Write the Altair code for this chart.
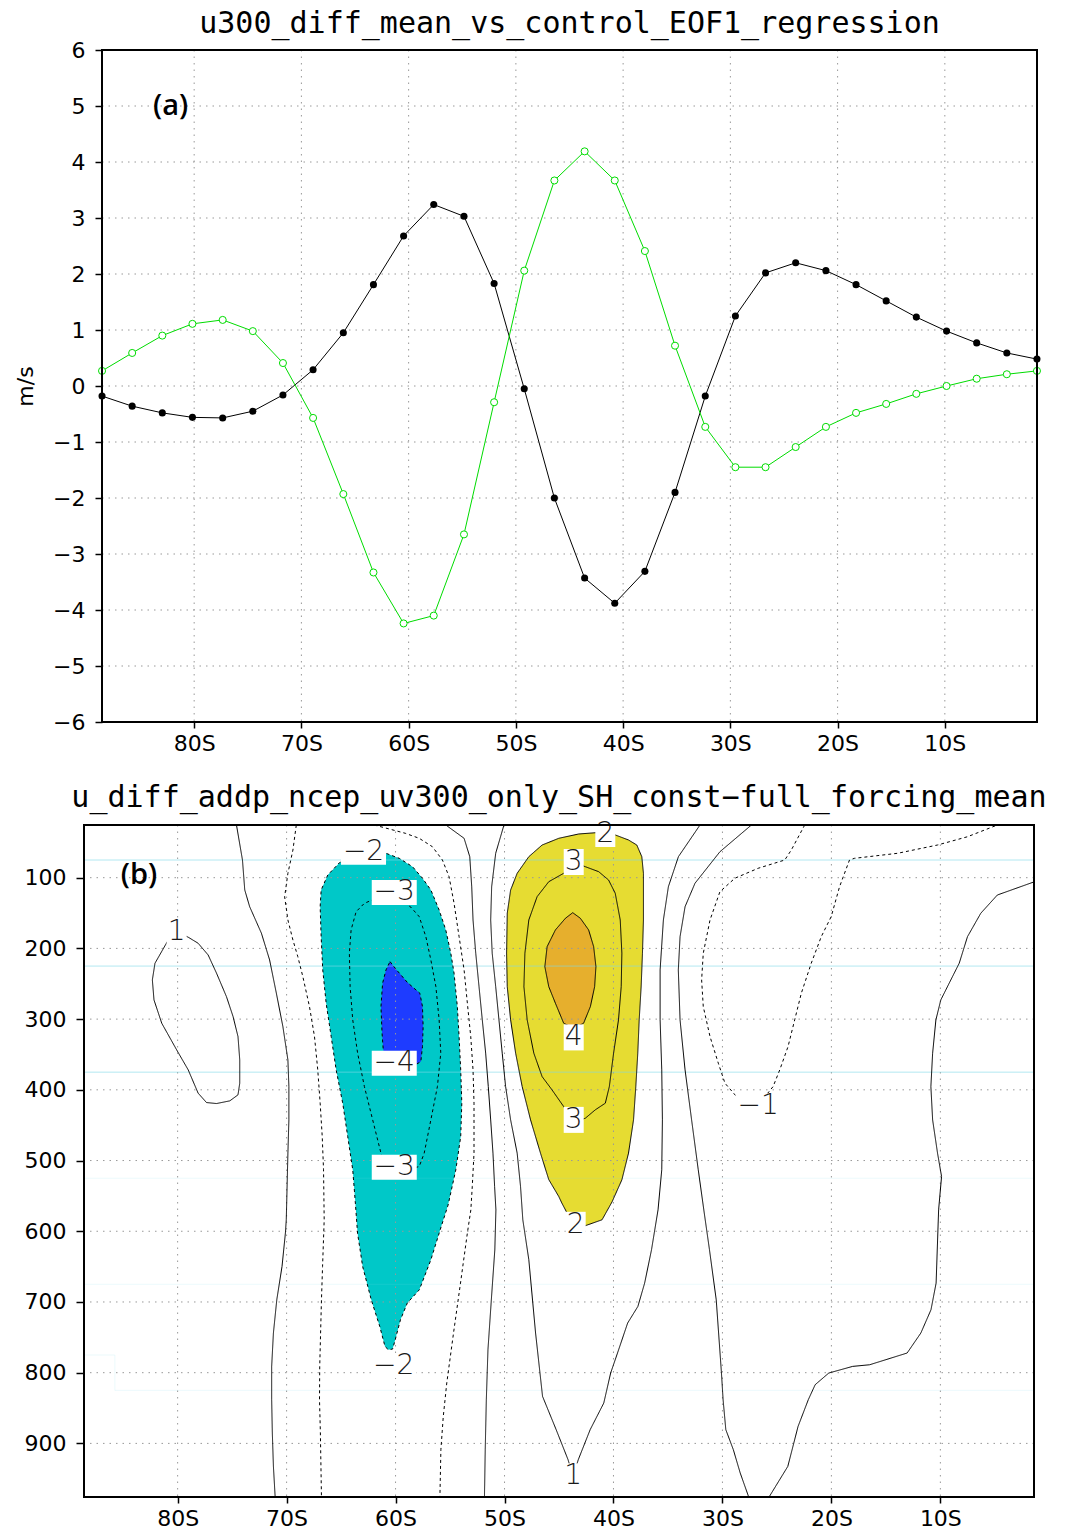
import altair as alt
import pandas as pd

# ---------------- (a) u300 profiles on the 2.8125-degree latitude grid ----------------
lat = [-88.59, -85.78, -82.97, -80.16, -77.34, -74.53, -71.72, -68.91,
       -66.09, -63.28, -60.47, -57.66, -54.84, -52.03, -49.22, -46.41,
       -43.59, -40.78, -37.97, -35.16, -32.34, -29.53, -26.72, -23.91,
       -21.09, -18.28, -15.47, -12.66, -9.84, -7.03, -4.22, -1.41]
u300_diff = [-0.18, -0.36, -0.48, -0.56, -0.57, -0.45, -0.16, 0.29,
             0.95, 1.81, 2.68, 3.24, 3.03, 1.83, -0.05, -2.00,
             -3.43, -3.88, -3.31, -1.90, -0.18, 1.25, 2.02, 2.20,
             2.06, 1.81, 1.52, 1.23, 0.98, 0.77, 0.59, 0.48]
eof1_reg = [0.27, 0.59, 0.90, 1.11, 1.18, 0.98, 0.41, -0.57,
            -1.93, -3.33, -4.24, -4.10, -2.65, -0.29, 2.06, 3.67,
            4.19, 3.67, 2.41, 0.72, -0.73, -1.45, -1.45, -1.09,
            -0.73, -0.48, -0.32, -0.14, 0.00, 0.13, 0.21, 0.27]

lat_ticks = [-80, -70, -60, -50, -40, -30, -20, -10]
u_ticks = [-6, -5, -4, -3, -2, -1, 0, 1, 2, 3, 4, 5, 6]
u_grid = [-5, -4, -3, -2, -1, 0, 1, 2, 3, 4, 5]
p_ticks = [100, 200, 300, 400, 500, 600, 700, 800, 900]

title_a = "u300_diff_mean_vs_control_EOF1_regression"
title_b = "u_diff_addp_ncep_uv300_only_SH_const\u2212full_forcing_mean"

# ---------------- (b) contour paths of the u difference, (lat, hPa) ----------------
u_p1_polar = [(-80.09, 176), (-80.95, 190.5), (-82.08, 221.0), (-82.32, 244.6), (-82.17, 272.9),
              (-81.46, 305.8), (-80.09, 343.5), (-79.03, 371.8), (-78.12, 404.7), (-77.35, 418.0),
              (-76.43, 419.4), (-75.21, 415.6), (-74.46, 407.1), (-74.30, 390.6), (-74.30, 357.7),
              (-74.46, 324.7), (-74.91, 296.5), (-75.52, 268.2), (-76.43, 235.1), (-77.20, 209.3),
              (-78.12, 192.7), (-79.03, 184.2), (-80.09, 176)]
u_0_polar = [(-74.60, 25.5), (-74.05, 75.0), (-73.84, 117.4), (-73.39, 141.0), (-72.31, 178.6),
             (-71.56, 216.3), (-70.94, 263.4), (-70.34, 310.6), (-69.88, 357.7), (-69.79, 395.4),
             (-69.79, 442.5), (-69.88, 489.5), (-70.03, 583.8), (-70.11, 602.6), (-70.42, 649.8),
             (-70.90, 696.9), (-71.21, 743.9), (-71.37, 791.1), (-71.37, 838.2), (-71.31, 885.3),
             (-71.21, 932.5), (-71.05, 975.8)]
u_m1_polar = [(-69.11, 25.5), (-69.42, 60.9), (-69.88, 93.8), (-70.18, 126.9), (-69.88, 159.8),
              (-69.42, 188.1), (-68.97, 211.7), (-68.51, 239.9), (-67.90, 282.3), (-67.44, 324.7),
              (-67.14, 371.8), (-66.92, 418.9), (-66.73, 466.1), (-66.61, 513.1), (-66.55, 583.8),
              (-66.70, 650.0), (-66.80, 697.0), (-66.96, 791.0), (-66.98, 838.0), (-66.90, 885.0),
              (-66.80, 975.8)]
u_m2 = [(-63.00, 60.0), (-60.88, 65.5), (-59.66, 72.6), (-58.44, 84.5), (-57.53, 100.8),
        (-56.76, 117.4), (-56.00, 145.7), (-55.39, 173.9), (-54.93, 206.9), (-54.63, 235.1),
        (-54.33, 282.3), (-54.17, 324.7), (-54.02, 371.8), (-53.92, 418.9), (-54.02, 466.1),
        (-54.47, 513.1), (-55.18, 563.0), (-55.81, 593.3), (-56.76, 640.4), (-57.82, 682.8),
        (-58.92, 701.5), (-59.55, 725.1), (-60.03, 753.4), (-60.27, 766.6), (-60.66, 767.6),
        (-60.97, 762.9), (-61.45, 734.6), (-62.23, 696.9), (-63.02, 649.8), (-63.49, 602.6),
        (-63.70, 558.0), (-63.93, 513.1), (-64.39, 466.1), (-64.85, 418.9), (-65.45, 371.8),
        (-65.91, 324.7), (-66.37, 277.5), (-66.68, 230.5), (-66.83, 183.4), (-66.92, 141.0),
        (-66.83, 117.4), (-66.22, 96.2), (-65.15, 78.8), (-63.00, 60.0)]
u_m3 = [(-60.58, 121.6), (-58.59, 141.8), (-57.83, 155.1), (-57.22, 183.4), (-56.76, 216.3),
        (-56.30, 254.1), (-56.00, 301.1), (-55.85, 348.2), (-56.16, 395.4), (-56.76, 442.5),
        (-57.37, 489.5), (-57.83, 508.5), (-59.66, 516.0), (-61.13, 499.0), (-61.34, 489.5),
        (-62.10, 442.5), (-62.86, 395.4), (-63.48, 348.2), (-63.93, 301.1), (-64.17, 254.1),
        (-64.24, 206.9), (-64.08, 173.9), (-63.62, 148.1), (-62.86, 136.2), (-60.58, 121.6)]
u_m4 = [(-60.51, 218.7), (-59.96, 229.5), (-58.90, 248.4), (-57.77, 263.4), (-57.53, 282.3),
        (-57.47, 310.6), (-57.53, 338.9), (-57.68, 360.1), (-58.44, 367.1), (-59.66, 367.1),
        (-60.88, 357.7), (-61.13, 343.5), (-61.24, 319.9), (-61.34, 282.3), (-61.19, 249.3),
        (-60.88, 230.5), (-60.51, 218.7)]
u_m1_mid = [(-61.95, 25.5), (-59.11, 37.2), (-57.83, 44.3), (-56.62, 56.2), (-55.70, 75.0),
            (-55.09, 98.6), (-54.63, 136.2), (-54.17, 183.4), (-53.71, 230.5), (-53.41, 277.5),
            (-53.10, 324.7), (-52.89, 371.8), (-52.80, 418.9), (-52.80, 489.5), (-52.96, 536.7),
            (-53.09, 569.7), (-53.41, 602.6), (-54.04, 673.3), (-54.68, 743.9), (-55.30, 814.6),
            (-55.62, 861.8), (-55.84, 908.9), (-55.93, 975.8)]
u_0_mid = [(-55.39, 25.5), (-53.71, 44.3), (-53.19, 70.3), (-53.01, 112.7), (-52.89, 159.8),
           (-52.64, 206.9), (-52.34, 254.1), (-52.04, 301.1), (-51.73, 348.2), (-51.49, 395.4),
           (-51.27, 442.5), (-51.06, 489.5), (-50.91, 536.7), (-50.79, 569.7), (-50.89, 626.2),
           (-51.21, 696.9), (-51.52, 767.6), (-51.67, 838.2), (-51.77, 908.9), (-51.84, 975.8)]
u_p1_mid = [(-50.05, 25.5), (-50.81, 65.5), (-51.18, 112.7), (-51.27, 159.8), (-51.13, 206.9),
            (-50.81, 254.1), (-50.51, 301.1), (-50.21, 348.2), (-49.90, 395.4), (-49.44, 442.5),
            (-48.84, 489.5), (-48.53, 536.7), (-48.32, 583.8), (-47.77, 640.3), (-47.15, 743.9),
            (-46.51, 833.5), (-45.26, 880.6), (-44.17, 923.0), (-43.71, 946.6), (-43.23, 923.0),
            (-42.14, 880.6), (-40.89, 842.9), (-40.26, 800.5), (-39.63, 772.2), (-38.70, 729.8),
            (-37.76, 706.3), (-37.14, 673.3), (-36.51, 626.2), (-35.91, 569.7), (-35.57, 513.1),
            (-35.51, 442.5), (-35.57, 371.8), (-35.72, 301.1), (-35.72, 230.5), (-35.42, 159.8),
            (-34.96, 112.7), (-34.04, 70.3), (-32.06, 25.5)]
u_p2 = [(-40.75, 35.4), (-39.83, 39.6), (-38.62, 46.7), (-37.86, 53.8), (-37.40, 70.3),
        (-37.25, 93.8), (-37.25, 159.8), (-37.34, 206.9), (-37.46, 254.1), (-37.64, 301.1),
        (-37.77, 348.2), (-37.95, 395.4), (-38.16, 442.5), (-38.62, 489.5), (-39.23, 527.3),
        (-40.13, 558.4), (-41.05, 583.8), (-42.61, 592.3), (-43.74, 595.1), (-44.33, 572.1),
        (-44.75, 559.8), (-45.02, 550.9), (-45.94, 526.9), (-46.70, 489.5), (-47.61, 442.5),
        (-48.38, 395.4), (-48.98, 348.2), (-49.44, 301.1), (-49.75, 254.1), (-49.81, 206.9),
        (-49.75, 150.3), (-49.44, 117.4), (-48.84, 93.8), (-47.77, 70.3), (-46.55, 53.8),
        (-45.02, 44.3), (-43.19, 38.2), (-40.75, 35.4)]
u_p3 = [(-43.65, 77.8), (-42.58, 84.5), (-41.36, 91.5), (-40.45, 103.3), (-39.84, 122.0),
        (-39.38, 159.8), (-39.23, 206.9), (-39.29, 254.1), (-39.54, 301.1), (-39.99, 348.2),
        (-40.38, 395.4), (-40.75, 418.9), (-41.67, 428.3), (-42.58, 440.1), (-43.65, 446.7),
        (-44.57, 423.7), (-45.64, 400.1), (-46.55, 381.3), (-47.31, 348.2), (-47.92, 301.1),
        (-48.22, 254.1), (-48.13, 206.9), (-47.77, 159.8), (-47.01, 126.9), (-45.94, 105.7),
        (-44.57, 93.8), (-43.65, 77.8)]
u_p4 = [(-43.74, 149.5), (-43.04, 157.4), (-42.28, 173.9), (-41.82, 197.5), (-41.61, 225.8),
        (-41.73, 254.1), (-42.12, 282.3), (-42.74, 305.8), (-43.65, 312.9), (-44.57, 305.8),
        (-45.33, 277.5), (-45.94, 254.1), (-46.30, 225.8), (-46.09, 197.5), (-45.33, 173.9),
        (-44.41, 157.4), (-43.74, 149.5)]
u_0_sub = [(-27.34, 25.5), (-30.23, 63.3), (-32.52, 107.9), (-33.43, 141.0), (-33.89, 183.4),
           (-34.05, 230.5), (-33.89, 301.1), (-33.43, 371.8), (-32.83, 442.5), (-32.22, 513.1),
           (-31.71, 569.7), (-31.19, 626.2), (-30.57, 696.9), (-30.09, 800.5), (-29.94, 838.2),
           (-29.69, 880.6), (-29.00, 908.9), (-28.37, 941.8), (-27.59, 975.8)]
u_m1_sub = [(-22.45, 25.5), (-23.68, 60.9), (-24.28, 75.0), (-26.72, 86.7), (-28.86, 100.8),
            (-30.23, 119.8), (-31.14, 159.8), (-31.76, 206.9), (-31.91, 244.6), (-31.76, 282.3),
            (-31.14, 324.7), (-30.38, 362.3), (-29.77, 390.6), (-28.71, 409.5), (-26.72, 421.3),
            (-25.35, 395.4), (-24.74, 371.8), (-23.98, 338.9), (-23.37, 301.1), (-22.76, 263.4),
            (-21.85, 221.0), (-20.93, 183.4), (-20.02, 155.1), (-19.25, 112.7), (-18.34, 75.0),
            (-17.88, 72.6), (-13.92, 65.5), (-10.26, 53.8), (-7.51, 42.1), (-4.77, 25.5)]
u_0_trop = [(-1.41, 106.0), (-4.77, 124.5), (-6.29, 150.3), (-7.51, 183.4), (-8.27, 221.0),
            (-9.04, 244.6), (-9.96, 272.9), (-10.41, 301.1), (-10.71, 348.2), (-10.87, 395.4),
            (-10.71, 442.5), (-10.26, 489.5), (-9.89, 522.6), (-10.16, 569.7), (-10.39, 673.3),
            (-10.86, 711.0), (-11.79, 743.9), (-13.05, 772.2), (-16.49, 788.8), (-18.05, 791.1),
            (-20.24, 800.5), (-21.49, 817.0), (-22.12, 838.2), (-23.06, 876.0), (-24.00, 932.5),
            (-25.72, 975.8)]

# contour level of each path
contour_paths = [(1, u_p1_polar), (0, u_0_polar), (-1, u_m1_polar), (-2, u_m2), (-3, u_m3),
                 (-4, u_m4), (-1, u_m1_mid), (0, u_0_mid), (1, u_p1_mid), (2, u_p2), (3, u_p3),
                 (4, u_p4), (0, u_0_sub), (-1, u_m1_sub), (0, u_0_trop)]

# shaded bands: |u| >= 2 outer, |u| >= 4 inner
shade_outer = [("#00c8c8", u_m2), ("#e6dc32", u_p2)]
shade_inner = [("#1e3cff", u_m4), ("#e6af2d", u_p4)]

# contour labels (lat, hPa, text)
label_lat = [-80.09, -62.94, -60.12, -60.12, -60.12, -60.18, -40.75, -43.65, -43.65, -43.65, -43.47, -43.71, -26.72]
label_p = [176.3, 64.0, 120.9, 362.3, 509.6, 789.9, 38.2, 77.8, 325.9, 442.5, 590.9, 946.6, 422.4]
label_txt = ["1", "\u22122", "\u22123", "\u22124", "\u22123", "\u22122", "2", "3", "4", "3", "2", "1", "\u22121"]

# light horizontal guide lines across panel (b)
guide_p = [75, 225, 375]
faint_p = [525, 675]
faint_step = [(-88.59, 775), (-85.76, 775), (-85.76, 825), (-1.41, 825)]

LAT_MIN, LAT_MAX = -88.59375, -1.40625
P_TOP, P_BOT = 25.5, 975.8
SHIFT_A = 18            # panel (a) frame sits this far right of panel (b)'s
W_A, H_A = 935, 672
W_B, H_B = 950, 672
FONT = "DejaVu Sans"
TITLE_FONT = "DejaVu Sans Mono"
GRID = dict(color="#999999", strokeDash=[1.5, 5], strokeWidth=1)
one_row = alt.Data(values=[{}])

lat_scale_a = alt.Scale(domain=[LAT_MIN, LAT_MAX], range=[SHIFT_A, SHIFT_A + W_A], nice=False, zero=False)
lat_scale_b = alt.Scale(domain=[LAT_MIN, LAT_MAX], nice=False, zero=False)
u_scale = alt.Scale(domain=[-6, 6], nice=False, zero=False)
p_scale = alt.Scale(domain=[P_TOP, P_BOT], reverse=True, nice=False, zero=False)

tick_style = dict(domain=False, tickColor="black", tickWidth=1.5, grid=False,
                  labelFont=FONT, labelFontSize=22, labelColor="black")
lat_axis = alt.Axis(values=lat_ticks, labelExpr="abs(datum.value) + 'S'", title=None,
                    tickSize=6, labelPadding=5, **tick_style)
u_axis = alt.Axis(values=u_ticks, title="m/s", tickSize=7, labelPadding=10, offset=-SHIFT_A,
                  titleFont=FONT, titleFontSize=22, titleFontWeight="normal",
                  titleColor="black", titlePadding=15, **tick_style)
p_axis = alt.Axis(values=p_ticks, title=None, tickSize=8, labelPadding=10, **tick_style)


def XA():
    return alt.X("lat:Q", scale=lat_scale_a, axis=lat_axis)


def YA():
    return alt.Y("val:Q", scale=u_scale, axis=u_axis)


def XB():
    return alt.X("lat:Q", scale=lat_scale_b, axis=lat_axis)


def YB():
    return alt.Y("p:Q", scale=p_scale, axis=p_axis)


def heading(text, x, y):
    return alt.Chart(one_row).mark_text(
        text=text, font=TITLE_FONT, fontSize=30, color="black", align="center",
        baseline="alphabetic").encode(x=alt.value(x), y=alt.value(y))


# ============================ panel (a) ============================
df_a = pd.concat([
    pd.DataFrame({"lat": lat, "val": u300_diff, "series": "diff"}),
    pd.DataFrame({"lat": lat, "val": eof1_reg, "series": "reg"}),
])

room_a = alt.Chart(one_row).mark_rule(opacity=0).encode(
    x=alt.value(-84), x2=alt.value(SHIFT_A + W_A + 29), y=alt.value(-50), y2=alt.value(H_A + 45))

grid_va = alt.Chart(pd.DataFrame({"lat": lat_ticks})).mark_rule(**GRID).encode(x=XA())
grid_ha = alt.Chart(pd.DataFrame({"val": u_grid})).mark_rule(**GRID).encode(
    y=YA(), x=alt.value(SHIFT_A), x2=alt.value(SHIFT_A + W_A))

base_a = alt.Chart(df_a)
green = base_a.transform_filter("datum.series == 'reg'")
black = base_a.transform_filter("datum.series == 'diff'")
green_line = green.mark_line(color="#00dc00", strokeWidth=1).encode(x=XA(), y=YA())
green_pts = green.mark_point(shape="circle", filled=True, color="white", stroke="#00dc00",
                             strokeWidth=1, size=50, opacity=1).encode(x=XA(), y=YA())
black_line = black.mark_line(color="black", strokeWidth=1).encode(x=XA(), y=YA())
black_pts = black.mark_circle(color="black", size=50, opacity=1).encode(x=XA(), y=YA())

tag_a = alt.Chart(pd.DataFrame({"lat": [-82.2], "val": [5.0], "t": ["(a)"]})).mark_text(
    font="Open Sans", fontSize=29, fontWeight=600, color="black", align="center",
    baseline="middle").encode(x=XA(), y=YA(), text="t:N")

frame_a = alt.Chart(one_row).mark_rect(fillOpacity=0, stroke="black", strokeWidth=2).encode(
    x=alt.value(SHIFT_A), x2=alt.value(SHIFT_A + W_A), y=alt.value(0), y2=alt.value(H_A))

panel_a = alt.layer(room_a, grid_va, grid_ha, black_line, green_line, green_pts, black_pts,
                    tag_a, frame_a, heading(title_a, SHIFT_A + W_A / 2, -17)).properties(
    width=SHIFT_A + W_A, height=H_A)

# ============================ panel (b) ============================
line_rows = []
for cid, (level, pts) in enumerate(contour_paths):
    for i, (la, pr) in enumerate(pts):
        line_rows.append({"cid": cid, "level": level, "i": i, "lat": la, "p": pr})
df_lines = pd.DataFrame(line_rows)


def shade_frame(bands):
    rows = []
    for sid, (col, pts) in enumerate(bands):
        for i, (la, pr) in enumerate(pts):
            rows.append({"sid": sid, "shade": col, "i": i, "lat": la, "p": pr})
    return pd.DataFrame(rows)


df_outer = shade_frame(shade_outer)
df_inner = shade_frame(shade_inner)
df_labels = pd.DataFrame({"lat": label_lat, "p": label_p, "txt": label_txt})

room_b = alt.Chart(one_row).mark_rule(opacity=0).encode(
    x=alt.value(-84), x2=alt.value(W_B + 32), y=alt.value(-58), y2=alt.value(H_B + 39))


def shaded(df):
    return alt.Chart(df).mark_line(filled=True, strokeWidth=0, clip=True).encode(
        x=XB(), y=YB(), detail="sid:N", order="i:Q", color=alt.Color("shade:N", scale=None))


grid_vb = alt.Chart(pd.DataFrame({"lat": lat_ticks})).mark_rule(**GRID).encode(x=XB())
grid_hb = alt.Chart(pd.DataFrame({"p": p_ticks})).mark_rule(**GRID).encode(y=YB())

guides = alt.Chart(pd.DataFrame({"p": guide_p})).mark_rule(
    color="#7fd8e8", opacity=0.6, strokeWidth=1).encode(y=YB())
faint = alt.Chart(pd.DataFrame({"p": faint_p})).mark_rule(
    color="#7fd8e8", opacity=0.15, strokeWidth=1).encode(y=YB())
faint_path = alt.Chart(pd.DataFrame({"lat": [q[0] for q in faint_step], "p": [q[1] for q in faint_step],
                                     "i": list(range(len(faint_step)))})).mark_line(
    color="#7fd8e8", opacity=0.15, strokeWidth=1).encode(x=XB(), y=YB(), order="i:Q")

contours = alt.Chart(df_lines).mark_line(color="black", strokeWidth=1, clip=True).encode(
    x=XB(), y=YB(), detail="cid:N", order="i:Q",
    strokeDash=alt.condition("datum.level < 0", alt.value([3, 3]), alt.value([1, 0])))

label_boxes = alt.Chart(df_labels).transform_calculate(
    box="length(datum.txt) > 1 ? 'M-2.25,-1.25L2.25,-1.25L2.25,1.25L-2.25,1.25Z' "
        ": 'M-1,-1.3L1,-1.3L1,1.3L-1,1.3Z'"
).mark_point(filled=True, color="white", opacity=1, strokeWidth=0, size=400).encode(
    x=XB(), y=YB(), shape=alt.Shape("box:N", scale=None))
label_text = alt.Chart(df_labels).mark_text(
    font=FONT, fontSize=28, fontWeight=300, color="#1a1a1a", align="center",
    baseline="middle").encode(x=XB(), y=YB(), text="txt:N")

tag_b = alt.Chart(pd.DataFrame({"lat": [-83.55], "p": [95.7], "t": ["(b)"]})).mark_text(
    font="Open Sans", fontSize=29, fontWeight=600, color="black", align="center",
    baseline="middle").encode(x=XB(), y=YB(), text="t:N")

frame_b = alt.Chart(one_row).mark_rect(fillOpacity=0, stroke="black", strokeWidth=2).encode(
    x=alt.value(0), x2=alt.value(W_B), y=alt.value(0), y2=alt.value(H_B))

panel_b = alt.layer(room_b, shaded(df_outer), shaded(df_inner), grid_vb, grid_hb,
                    guides, faint, faint_path, contours, label_boxes, label_text, tag_b,
                    frame_b, heading(title_b, W_B / 2, -18)).properties(
    width=W_B, height=H_B)

chart = alt.vconcat(panel_a, panel_b, spacing=0).properties(
    padding=0, background="white"
).configure_view(strokeWidth=0)

chart.save("out.html", embed_options={"renderer": "svg", "actions": False})
